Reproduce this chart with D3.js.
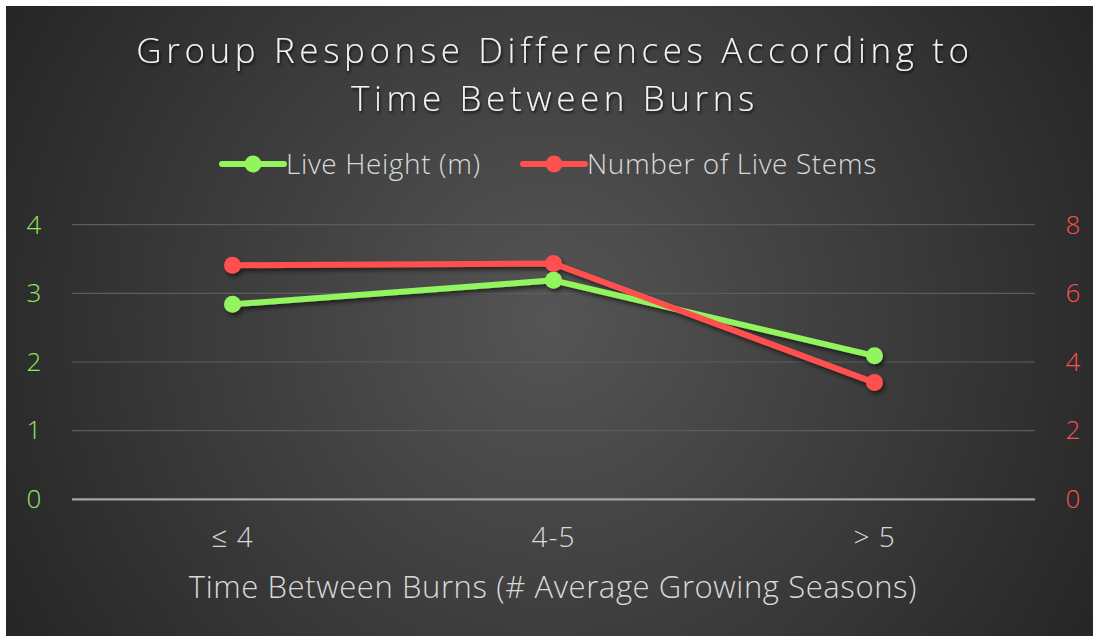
<!DOCTYPE html>
<html><head><meta charset="utf-8">
<script src="https://cdn.jsdelivr.net/npm/d3@7"></script>
<style>
html,body{margin:0;padding:0;background:#fff;}
svg{display:block;}
text{font-family:"Open Sans","Noto Sans",sans-serif;}
</style></head>
<body>
<svg id="chart" width="1094" height="636"></svg>
<script>
const categories = ["≤ 4", "4-5", "> 5"];
const liveHeight = [2.84, 3.19, 2.09];
const liveStems = [6.82, 6.87, 3.40];
const leftTicks = [0, 1, 2, 3, 4];
const rightTicks = [0, 2, 4, 6, 8];
const title = ["Group Response Differences According to", "Time Between Burns"];
const xTitle = "Time Between Burns (# Average Growing Seasons)";
const seriesNames = ["Live Height (m)", "Number of Live Stems"];

const green = "#92f55e", red = "#ff5050";
const svg = d3.select("#chart");
const defs = svg.append("defs");
const rg = defs.append("radialGradient").attr("id","bg")
  .attr("gradientUnits","userSpaceOnUse").attr("cx",550).attr("cy",320).attr("r",620);
rg.append("stop").attr("offset","0%").attr("stop-color","#555555");
rg.append("stop").attr("offset","100%").attr("stop-color","#262626");
const sh = defs.append("filter").attr("id","shadow").attr("x","-10%").attr("y","-20%").attr("width","130%").attr("height","150%");
sh.append("feDropShadow").attr("dx",2).attr("dy",3).attr("stdDeviation",2).attr("flood-color","#000").attr("flood-opacity",0.55);
const glow = defs.append("filter").attr("id","glow").attr("x","-5%").attr("y","-30%").attr("width","110%").attr("height","160%");
glow.append("feDropShadow").attr("dx",1).attr("dy",2).attr("stdDeviation",1.5).attr("flood-color","#000").attr("flood-opacity",0.8);

svg.append("rect").attr("x",6).attr("y",6).attr("width",1087).attr("height",630).attr("fill","url(#bg)");

const x = d3.scaleBand().domain(categories).range([72, 1035]);
const yL = d3.scaleLinear().domain([0, 4]).range([499.3, 224.7]);
const yR = d3.scaleLinear().domain([0, 8]).range([499.3, 224.7]);

// gridlines
svg.append("g").selectAll("line").data(leftTicks.filter(d=>d>0)).join("line")
  .attr("x1",72).attr("x2",1035).attr("y1",d=>yL(d)).attr("y2",d=>yL(d))
  .attr("stroke","#5c5c5c").attr("stroke-width",1.2);
// axis line
svg.append("line").attr("x1",72).attr("x2",1035).attr("y1",yL(0)).attr("y2",yL(0))
  .attr("stroke","#a6a6a6").attr("stroke-width",2.2);

// left axis
const gl = svg.append("g").attr("transform","translate(42,0)")
  .call(d3.axisLeft(yL).tickValues(leftTicks).tickSize(0).tickPadding(0).tickFormat(d3.format("d")));
gl.select(".domain").remove();
gl.selectAll("text").attr("fill","#8fe85e").attr("font-size",26).attr("font-weight",300)
  .attr("text-anchor","middle").attr("dx",-8).attr("font-family","'Open Sans',sans-serif");
// right axis
const gr = svg.append("g").attr("transform","translate(1064,0)")
  .call(d3.axisRight(yR).tickValues(rightTicks).tickSize(0).tickPadding(0).tickFormat(d3.format("d")));
gr.select(".domain").remove();
gr.selectAll("text").attr("fill","#ff5050").attr("font-size",26).attr("font-weight",300)
  .attr("text-anchor","middle").attr("dx",9).attr("font-family","'Open Sans',sans-serif");

// x axis
const gx = svg.append("g").attr("transform",`translate(0,${yL(0)})`)
  .call(d3.axisBottom(x).tickSize(0).tickPadding(28));
gx.select(".domain").remove();
gx.selectAll("text").attr("fill","#d9d9d9").attr("font-size",28).attr("font-weight",300)
  .attr("letter-spacing",1).attr("font-family","'Open Sans',sans-serif");

// x title
svg.append("text").attr("x",553).attr("y",598).attr("text-anchor","middle")
  .attr("fill","#d9d9d9").attr("font-size",31).attr("font-weight",300)
  .attr("letter-spacing",0.6).text(xTitle);

// title
svg.append("g").attr("filter","url(#glow)").selectAll("text").data(title).join("text")
  .attr("x",555).attr("y",(d,i)=>63+i*48).attr("text-anchor","middle")
  .attr("fill","#f2f2f2").attr("font-size",35).attr("font-weight",300)
  .attr("letter-spacing",4.6).text(d=>d);

// lines
const series = [{vals: liveHeight, y: yL, c: green}, {vals: liveStems, y: yR, c: red}];
const pts = svg.append("g").attr("filter","url(#shadow)");
series.forEach(s=>{
  const line = d3.line().x((d,i)=>x(categories[i])+x.bandwidth()/2).y(d=>s.y(d));
  pts.append("path").datum(s.vals).attr("d",line).attr("fill","none")
    .attr("stroke",s.c).attr("stroke-width",6).attr("stroke-linejoin","round").attr("stroke-linecap","round");
  pts.append("g").selectAll("circle").data(s.vals).join("circle")
    .attr("cx",(d,i)=>x(categories[i])+x.bandwidth()/2).attr("cy",d=>s.y(d)).attr("r",8.5).attr("fill",s.c);
});

// legend
const legend = [{name: seriesNames[0], c: green, x0: 222}, {name: seriesNames[1], c: red, x0: 523}];
const lg = svg.append("g").selectAll("g").data(legend).join("g").attr("transform",d=>`translate(${d.x0},164)`);
lg.append("line").attr("x1",0).attr("x2",62).attr("stroke",d=>d.c).attr("stroke-width",6).attr("stroke-linecap","round");
lg.append("circle").attr("cx",31).attr("r",8.5).attr("fill",d=>d.c);
lg.append("text").attr("x",64).attr("y",10).attr("fill","#d9d9d9").attr("font-size",28).attr("font-weight",300)
  .attr("letter-spacing",0.6).text(d=>d.name);
</script>
</body></html>
